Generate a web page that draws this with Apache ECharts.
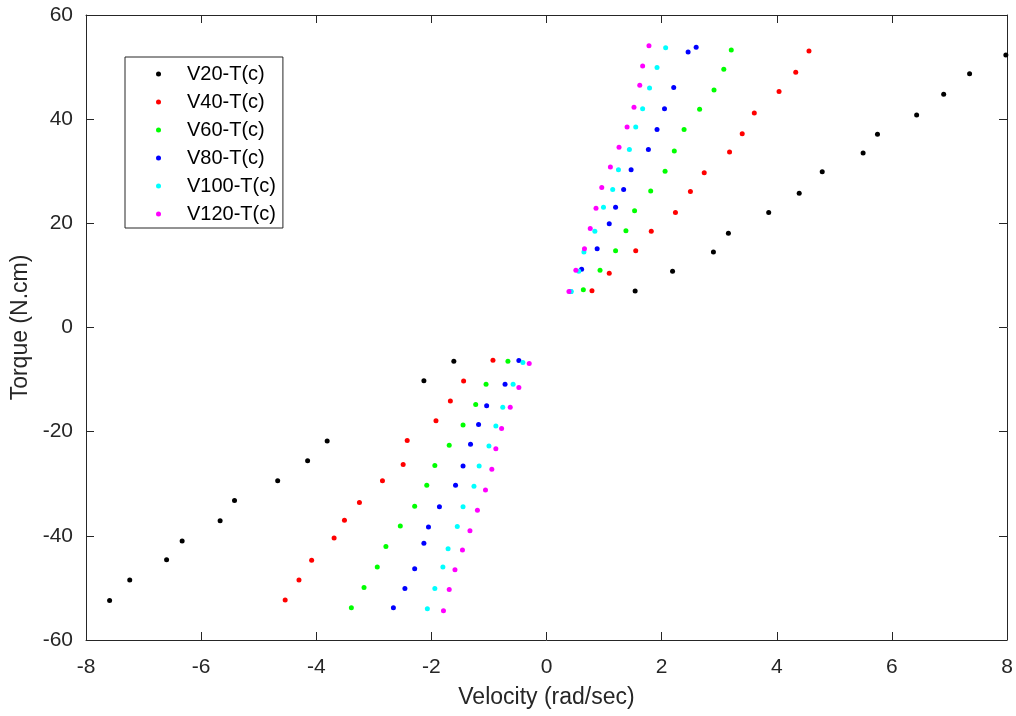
<!DOCTYPE html>
<html>
<head>
<meta charset="utf-8">
<script src="https://cdn.jsdelivr.net/npm/echarts@6/dist/echarts.min.js"></script>
<style>
html,body{margin:0;padding:0;background:#fff;}
#chart{width:1016px;height:716px;}
</style>
</head>
<body>
<div id="chart"></div>
<script>
const seriesNames = ['V20-T(c)', 'V40-T(c)', 'V60-T(c)', 'V80-T(c)', 'V100-T(c)', 'V120-T(c)'];
const seriesColors = ['#000000', '#ff0000', '#00ff00', '#0000ff', '#00ffff', '#ff00ff'];

// velocity (rad/sec) and torque (N.cm) for each series
const v20X = [-7.59, -7.24, -6.60, -6.33, -5.67, -5.42, -4.67, -4.15, -3.81, -2.13, -1.61,
              1.54, 2.19, 2.90, 3.16, 3.86, 4.39, 4.79, 5.50, 5.75, 6.43, 6.90, 7.35, 7.98];
const v20Y = [-52.4, -48.5, -44.6, -41.0, -37.1, -33.2, -29.4, -25.6, -21.8, -10.2, -6.5,
              7.0, 10.8, 14.5, 18.1, 22.1, 25.8, 29.9, 33.5, 37.1, 40.8, 44.8, 48.7, 52.3];

const v40X = [-4.54, -4.30, -4.08, -3.69, -3.51, -3.25, -2.85, -2.49, -2.42, -1.92, -1.67, -1.44, -0.93,
              0.79, 1.09, 1.55, 1.82, 2.24, 2.50, 2.74, 3.18, 3.40, 3.61, 4.04, 4.33, 4.56];
const v40Y = [-52.3, -48.5, -44.7, -40.4, -37.0, -33.6, -29.4, -26.3, -21.7, -17.9, -14.1, -10.25, -6.3,
              7.05, 10.4, 14.75, 18.5, 22.1, 26.1, 29.7, 33.7, 37.2, 41.2, 45.3, 49.0, 53.1];

const v60X = [-3.39, -3.17, -2.94, -2.79, -2.54, -2.29, -2.08, -1.94, -1.69, -1.45, -1.23, -1.05, -0.67,
              0.64, 0.93, 1.20, 1.38, 1.53, 1.81, 2.06, 2.22, 2.39, 2.66, 2.91, 3.08, 3.21];
const v60Y = [-53.8, -49.9, -46.0, -42.05, -38.1, -34.3, -30.3, -26.5, -22.6, -18.7, -14.8, -10.9, -6.5,
              7.25, 11.0, 14.75, 18.6, 22.4, 26.2, 30.0, 33.9, 38.0, 41.9, 45.6, 49.6, 53.3];

const v80X = [-2.66, -2.46, -2.29, -2.13, -2.05, -1.86, -1.58, -1.45, -1.32, -1.18, -1.04, -0.72, -0.48,
              0.42, 0.61, 0.88, 1.09, 1.20, 1.34, 1.47, 1.77, 1.92, 2.05, 2.21, 2.46, 2.60];
const v80Y = [-53.8, -50.1, -46.3, -41.4, -38.3, -34.4, -30.3, -26.6, -22.4, -18.6, -15.0, -10.9, -6.35,
              6.9, 11.2, 15.1, 19.9, 23.1, 26.5, 30.3, 34.2, 38.0, 42.0, 46.1, 52.9, 53.8];

const v100X = [-2.07, -1.94, -1.80, -1.71, -1.55, -1.45, -1.26, -1.17, -1.00, -0.88, -0.76, -0.58, -0.41,
               0.43, 0.56, 0.65, 0.84, 0.99, 1.15, 1.25, 1.44, 1.55, 1.67, 1.79, 1.92, 2.07];
const v100Y = [-54.0, -50.1, -46.0, -42.5, -38.2, -34.4, -30.5, -26.6, -22.75, -18.9, -15.3, -10.9, -6.7,
               6.9, 10.8, 14.5, 18.5, 23.1, 26.5, 30.3, 34.2, 38.5, 42.0, 46.0, 49.9, 53.7];

const v120X = [-1.79, -1.69, -1.59, -1.46, -1.33, -1.20, -1.06, -0.95, -0.88, -0.78, -0.63, -0.48, -0.30,
               0.39, 0.51, 0.66, 0.76, 0.86, 0.96, 1.11, 1.26, 1.40, 1.52, 1.62, 1.67, 1.78];
const v120Y = [-54.4, -50.3, -46.5, -42.7, -39.0, -35.1, -31.2, -27.2, -23.3, -19.4, -15.3, -11.5, -6.9,
               6.9, 11.0, 15.1, 19.0, 22.9, 26.9, 30.8, 34.6, 38.5, 42.3, 46.5, 50.2, 54.1];

const seriesX = [v20X, v40X, v60X, v80X, v100X, v120X];
const seriesY = [v20Y, v40Y, v60Y, v80Y, v100Y, v120Y];

const xTicks = [-8, -6, -4, -2, 0, 2, 4, 6, 8];
const yTicks = [-60, -40, -20, 0, 20, 40, 60];

const axisColor = '#262626';
const font = 'Liberation Sans, Arial, Helvetica, sans-serif';

const chart = echarts.init(document.getElementById('chart'), null, {renderer: 'canvas'});

const series = seriesNames.map((name, i) => ({
  name: name,
  type: 'scatter',
  xAxisIndex: 0,
  yAxisIndex: 0,
  symbol: 'circle',
  symbolSize: 5,
  itemStyle: {color: seriesColors[i], opacity: 1},
  emphasis: {disabled: true},
  data: seriesX[i].map((x, j) => [x, seriesY[i][j]])
}));

const tickStyle = {show: true, inside: true, length: 8, lineStyle: {color: axisColor, width: 1}};
const lineStyle = {show: true, onZero: false, lineStyle: {color: axisColor, width: 1}};

const option = {
  backgroundColor: '#ffffff',
  animation: false,
  grid: {left: 86, right: 9, top: 15, bottom: 76, containLabel: false},
  legend: {
    show: true,
    orient: 'vertical',
    left: 125,
    top: 57,
    data: seriesNames,
    icon: 'circle',
    itemWidth: 5,
    itemHeight: 5,
    itemGap: 8,
    backgroundColor: '#ffffff',
    borderColor: axisColor,
    borderWidth: 1,
    padding: [7, 7, 4, 31],
    textStyle: {fontFamily: font, fontSize: 20, color: '#000000', lineHeight: 20, padding: [0, 0, 0, 21]}
  },
  xAxis: [{
    type: 'value',
    position: 'bottom',
    min: -8, max: 8, interval: 2,
    name: 'Velocity (rad/sec)',
    nameLocation: 'middle',
    nameGap: 46,
    nameTextStyle: {fontFamily: font, fontSize: 23, color: axisColor},
    axisLine: lineStyle,
    axisTick: tickStyle,
    axisLabel: {fontFamily: font, fontSize: 21, color: axisColor, margin: 17,
      formatter: v => xTicks.includes(v) ? String(v) : ''},
    splitLine: {show: false}
  }, {
    type: 'value',
    position: 'top',
    min: -8, max: 8, interval: 2,
    axisLine: lineStyle,
    axisTick: tickStyle,
    axisLabel: {show: false},
    splitLine: {show: false}
  }],
  yAxis: [{
    type: 'value',
    position: 'left',
    min: -60, max: 60, interval: 20,
    name: 'Torque (N.cm)',
    nameLocation: 'middle',
    nameGap: 52,
    nameTextStyle: {fontFamily: font, fontSize: 23, color: axisColor},
    axisLine: lineStyle,
    axisTick: tickStyle,
    axisLabel: {fontFamily: font, fontSize: 21, color: axisColor, margin: 13,
      formatter: v => yTicks.includes(v) ? String(v) : ''},
    splitLine: {show: false}
  }, {
    type: 'value',
    position: 'right',
    min: -60, max: 60, interval: 20,
    axisLine: lineStyle,
    axisTick: tickStyle,
    axisLabel: {show: false},
    splitLine: {show: false}
  }],
  series: series
};

chart.setOption(option);
</script>
</body>
</html>
